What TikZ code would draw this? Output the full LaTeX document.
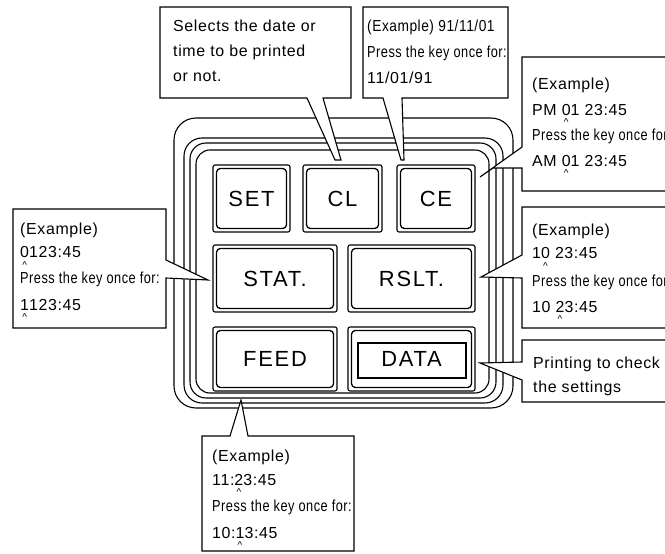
\documentclass[tikz,border=0pt]{standalone}
\usepackage{graphicx}
\usepackage{fontspec}
\setmainfont{Liberation Sans}
\newfontfamily\callfont[LetterSpace=4]{Liberation Sans}
\newfontfamily\btnfont[LetterSpace=8]{Liberation Sans}
\newcommand\sqz[2][0.8]{\scalebox{#1}[1]{#2}}
\newcommand\carunder[1]{\ooalign{#1\cr\hidewidth\raisebox{-10bp}{\fontsize{10}{10}\selectfont\textasciicircum}\hidewidth\cr}}
\tikzset{
  frame/.style={draw, line width=1.1bp},
  btnout/.style={draw, line width=1.1bp, rounded corners=2bp, inner sep=0pt,
    font=\btnfont\fontsize{22}{24}\selectfont},
  btnin/.style={draw, line width=1.3bp, rounded corners=4bp},
  callout/.style={draw, fill=white, line width=1.1bp, line join=miter},
  txt/.style={anchor=base west, inner sep=0pt, font=\callfont\fontsize{16}{18}\selectfont},
}
\begin{document}
\begin{tikzpicture}[x=1bp, y=-1bp]
\useasboundingbox (0,0) rectangle (665,554);
\clip (0,0) rectangle (665,554);
\fill[white] (0,0) rectangle (665,554);

% keypad frames
\draw[frame, rounded corners=22bp] (174,118) rectangle (513,408);
\draw[frame, rounded corners=18bp] (184,138) rectangle (503,403);
\draw[frame, rounded corners=16bp] (190,143) rectangle (496,398);
\draw[frame, rounded corners=14bp] (196,150) rectangle (489,393);

% buttons
\node[btnout, minimum width=77bp, minimum height=67bp] (set) at (251.5,198.5) {SET};
\node[btnout, minimum width=79bp, minimum height=67bp] (cl) at (342.5,198.5) {CL};
\node[btnout, minimum width=78bp, minimum height=67bp] (ce) at (436,198.5) {CE};
\node[btnout, minimum width=124bp, minimum height=67bp] (stat) at (275,278.5) {STAT.};
\node[btnout, minimum width=127bp, minimum height=67bp] (rslt) at (411.5,278.5) {RSLT.};
\node[btnout, minimum width=124bp, minimum height=64bp] (feed) at (275,359) {FEED};
\node[btnout, minimum width=127bp, minimum height=64bp] (data) at (411.5,359) {DATA};
\foreach \b in {set,cl,ce,stat,rslt,feed,data}{
  \draw[btnin] ([shift={(4,4)}]\b.north west) rectangle ([shift={(-4,-4)}]\b.south east);
}
\draw[line width=1.3bp] (358,343) rectangle (466,378);

% callouts
\draw[callout] (160,7) -- (351,7) -- (351,98) -- (323,98) -- (341,160) -- (335,160) -- (307,98) -- (160,98) -- cycle;
\draw[callout] (363,7) -- (508,7) -- (508,98) -- (402,98) -- (404,160) -- (401,160) -- (383,98) -- (363,98) -- cycle;
\draw[callout] (522,57) -- (690,57) -- (690,191) -- (522,191) -- (522,168) -- (493,168) -- (480,177) -- (522,147) -- cycle;
\draw[callout] (522,207) -- (690,207) -- (690,328) -- (522,328) -- (522,278) -- (481,277) -- (522,255) -- cycle;
\draw[callout] (522,340) -- (690,340) -- (690,402) -- (522,402) -- (522,380) -- (480,363) -- (522,362) -- cycle;
\draw[callout] (13,209) -- (166,209) -- (166,260) -- (208,280) -- (166,278) -- (166,328) -- (13,328) -- cycle;
\draw[callout] (202,436) -- (230,436) -- (241,400) -- (248,436) -- (354,436) -- (354,551) -- (202,551) -- cycle;

% texts
\node[txt] (t11) at (173,32) {Selects the date or};
\node[txt] (t12) at (173,57) {time to be printed};
\node[txt] (t13) at (173,82) {or not.};

\node[txt] (t21) at (367,32) {\sqz[0.86]{(Example) 91/11/01}};
\node[txt] (t22) at (367,58) {\sqz{Press the key once for:}};
\node[txt] (t23) at (367,84) {11/01/91};

\node[txt] (t31) at (532,90) {(Example)};
\node[txt] (t32) at (532,116) {PM \carunder{0}1 23:45};
\node[txt] (t33) at (532,141) {\sqz{Press the key once for}};
\node[txt] (t34) at (532,167) {AM \carunder{0}1 23:45};

\node[txt] (t41) at (532,236) {(Example)};
\node[txt] (t42) at (532,259) {1\carunder{0} 23:45};
\node[txt] (t43) at (532,286) {\sqz{Press the key once for}};
\node[txt] (t44) at (532,312) {10 \carunder{2}3:45};

\node[txt] (t51) at (533,368) {Printing to check};
\node[txt] (t52) at (533,392) {the settings};

\node[txt] (t61) at (20,235) {(Example)};
\node[txt] (t62) at (20,258) {\carunder{0}123:45};
\node[txt] (t63) at (20,283) {\sqz{Press the key once for:}};
\node[txt] (t64) at (20,310) {\carunder{1}123:45};

\node[txt] (t71) at (212,461) {(Example)};
\node[txt] (t72) at (212,485) {11:\carunder{2}3:45};
\node[txt] (t73) at (212,511) {\sqz{Press the key once for:}};
\node[txt] (t74) at (212,538) {10:\carunder{1}3:45};
\end{tikzpicture}
\end{document}
